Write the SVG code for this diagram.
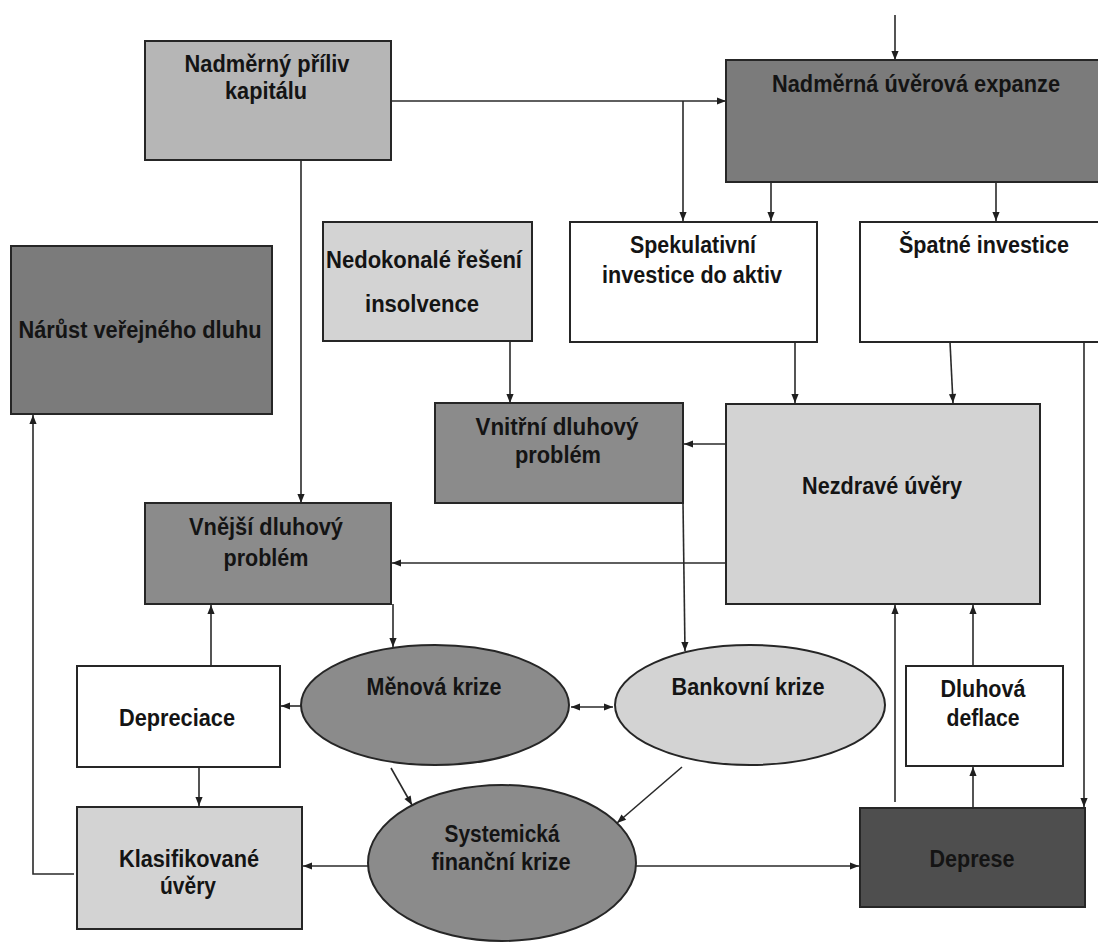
<svg xmlns="http://www.w3.org/2000/svg" width="1098" height="944" viewBox="0 0 1098 944">
<defs>
<style>
.b{stroke:#262626;stroke-width:2}
.w{fill:#ffffff}
.l1{fill:#d3d3d3}
.l2{fill:#b6b6b6}
.m{fill:#8b8b8b}
.d{fill:#7b7b7b}
.dd{fill:#4e4e4e}
.c{stroke:#2a2a2a;stroke-width:1.6;fill:none}
.t{font-family:"Liberation Sans Narrow","Liberation Sans",Arial,sans-serif;font-weight:bold;font-size:23px;fill:#141414;text-anchor:middle}
</style>
<marker id="ah" viewBox="0 0 10 10" refX="10" refY="5" markerWidth="10" markerHeight="9" orient="auto-start-reverse" markerUnits="userSpaceOnUse">
<path d="M0,1 L10,5 L0,9 z" fill="#1f1f1f"/>
</marker>
</defs>
<rect width="1098" height="944" fill="#ffffff"/>

<g id="connectors">
<line class="c" x1="895" y1="15" x2="895" y2="60" marker-end="url(#ah)"/>
<line class="c" x1="391" y1="101" x2="726" y2="101" marker-end="url(#ah)"/>
<line class="c" x1="683" y1="101" x2="683" y2="221" marker-end="url(#ah)"/>
<line class="c" x1="771" y1="182" x2="771" y2="221" marker-end="url(#ah)"/>
<line class="c" x1="996" y1="182" x2="996" y2="221" marker-end="url(#ah)"/>
<line class="c" x1="795" y1="342" x2="795" y2="403" marker-end="url(#ah)"/>
<line class="c" x1="950" y1="342" x2="953" y2="403" marker-end="url(#ah)"/>
<line class="c" x1="1084" y1="342" x2="1084" y2="807" marker-end="url(#ah)"/>
<line class="c" x1="510" y1="341" x2="510" y2="403" marker-end="url(#ah)"/>
<line class="c" x1="301" y1="160" x2="301" y2="503" marker-end="url(#ah)"/>
<line class="c" x1="726" y1="444" x2="684" y2="444" marker-end="url(#ah)"/>
<line class="c" x1="726" y1="563" x2="392" y2="563" marker-end="url(#ah)"/>
<line class="c" x1="683" y1="503" x2="685" y2="651" marker-end="url(#ah)"/>
<line class="c" x1="393" y1="604" x2="393" y2="647" marker-end="url(#ah)"/>
<line class="c" x1="571" y1="707" x2="613" y2="707" marker-start="url(#ah)" marker-end="url(#ah)"/>
<line class="c" x1="301" y1="706" x2="281" y2="706" marker-end="url(#ah)"/>
<line class="c" x1="211" y1="666" x2="211" y2="605" marker-end="url(#ah)"/>
<line class="c" x1="199" y1="767" x2="199" y2="806" marker-end="url(#ah)"/>
<polyline class="c" points="74,874 33,874 33,415" marker-end="url(#ah)"/>
<line class="c" x1="368" y1="866" x2="303" y2="866" marker-end="url(#ah)"/>
<line class="c" x1="636" y1="866" x2="859" y2="866" marker-end="url(#ah)"/>
<line class="c" x1="391" y1="768" x2="412" y2="805" marker-end="url(#ah)"/>
<line class="c" x1="682" y1="767" x2="617" y2="823" marker-end="url(#ah)"/>
<line class="c" x1="973" y1="808" x2="973" y2="767" marker-end="url(#ah)"/>
<line class="c" x1="973" y1="666" x2="973" y2="605" marker-end="url(#ah)"/>
<line class="c" x1="895" y1="802" x2="895" y2="605" marker-end="url(#ah)"/>
</g>

<g id="n-priliv">
<rect class="b l2" x="145" y="41" width="246" height="119"/>
<text class="t" x="267" y="72" textLength="165" lengthAdjust="spacingAndGlyphs">Nadměrný příliv</text>
<text class="t" x="266" y="99" textLength="82" lengthAdjust="spacingAndGlyphs">kapitálu</text>
</g>

<g id="n-expanze">
<rect class="b d" x="726" y="60" width="385" height="122"/>
<text class="t" x="916" y="92" textLength="288" lengthAdjust="spacingAndGlyphs">Nadměrná úvěrová expanze</text>
</g>

<g id="n-spekulativni">
<rect class="b w" x="570" y="222" width="247" height="120"/>
<text class="t" x="693" y="253" textLength="126" lengthAdjust="spacingAndGlyphs">Spekulativní</text>
<text class="t" x="692" y="283" textLength="180" lengthAdjust="spacingAndGlyphs">investice do aktiv</text>
</g>

<g id="n-spatne">
<rect class="b w" x="860" y="222" width="250" height="120"/>
<text class="t" x="984" y="253" textLength="170" lengthAdjust="spacingAndGlyphs">Špatné investice</text>
</g>

<g id="n-narust">
<rect class="b d" x="11" y="246" width="261" height="168"/>
<text class="t" x="140" y="338" textLength="243" lengthAdjust="spacingAndGlyphs">Nárůst veřejného dluhu</text>
</g>

<g id="n-nedokonale">
<rect class="b l1" x="323" y="222" width="209" height="119"/>
<text class="t" x="424" y="268" textLength="196" lengthAdjust="spacingAndGlyphs">Nedokonalé řešení</text>
<text class="t" x="422" y="312" textLength="114" lengthAdjust="spacingAndGlyphs">insolvence</text>
</g>

<g id="n-vnitrni">
<rect class="b m" x="435" y="403" width="248" height="100"/>
<text class="t" x="557" y="435" textLength="163" lengthAdjust="spacingAndGlyphs">Vnitřní  dluhový</text>
<text class="t" x="558" y="463" textLength="86" lengthAdjust="spacingAndGlyphs">problém</text>
</g>

<g id="n-nezdrave">
<rect class="b l1" x="726" y="404" width="314" height="200"/>
<text class="t" x="882" y="494" textLength="160" lengthAdjust="spacingAndGlyphs">Nezdravé úvěry</text>
</g>

<g id="n-vnejsi">
<rect class="b m" x="145" y="503" width="246" height="101"/>
<text class="t" x="266" y="535" textLength="154" lengthAdjust="spacingAndGlyphs">Vnější dluhový</text>
<text class="t" x="266" y="566" textLength="85" lengthAdjust="spacingAndGlyphs">problém</text>
</g>

<g id="n-menova">
<ellipse class="b m" cx="435" cy="705" rx="134" ry="60"/>
<text class="t" x="434" y="695" textLength="135" lengthAdjust="spacingAndGlyphs">Měnová krize</text>
</g>

<g id="n-bankovni">
<ellipse class="b l1" cx="750" cy="705" rx="135" ry="60"/>
<text class="t" x="748" y="695" textLength="153" lengthAdjust="spacingAndGlyphs">Bankovní krize</text>
</g>

<g id="n-depreciace">
<rect class="b w" x="77" y="666" width="203" height="101"/>
<text class="t" x="177" y="726" textLength="116" lengthAdjust="spacingAndGlyphs">Depreciace</text>
</g>

<g id="n-deflace">
<rect class="b w" x="906" y="666" width="157" height="100"/>
<text class="t" x="983" y="697" textLength="85" lengthAdjust="spacingAndGlyphs">Dluhová</text>
<text class="t" x="983" y="726" textLength="73" lengthAdjust="spacingAndGlyphs">deflace</text>
</g>

<g id="n-klasifikovane">
<rect class="b l1" x="77" y="807" width="225" height="122"/>
<text class="t" x="189" y="867" textLength="140" lengthAdjust="spacingAndGlyphs">Klasifikované</text>
<text class="t" x="188" y="894" textLength="56" lengthAdjust="spacingAndGlyphs">úvěry</text>
</g>

<g id="n-systemicka">
<ellipse class="b m" cx="502" cy="863" rx="134" ry="78"/>
<text class="t" x="502" y="842" textLength="115" lengthAdjust="spacingAndGlyphs">Systemická</text>
<text class="t" x="501" y="870" textLength="139" lengthAdjust="spacingAndGlyphs">finanční krize</text>
</g>

<g id="n-deprese">
<rect class="b dd" x="860" y="808" width="225" height="99"/>
<text class="t" x="972" y="867" textLength="85" lengthAdjust="spacingAndGlyphs">Deprese</text>
</g>
</svg>
